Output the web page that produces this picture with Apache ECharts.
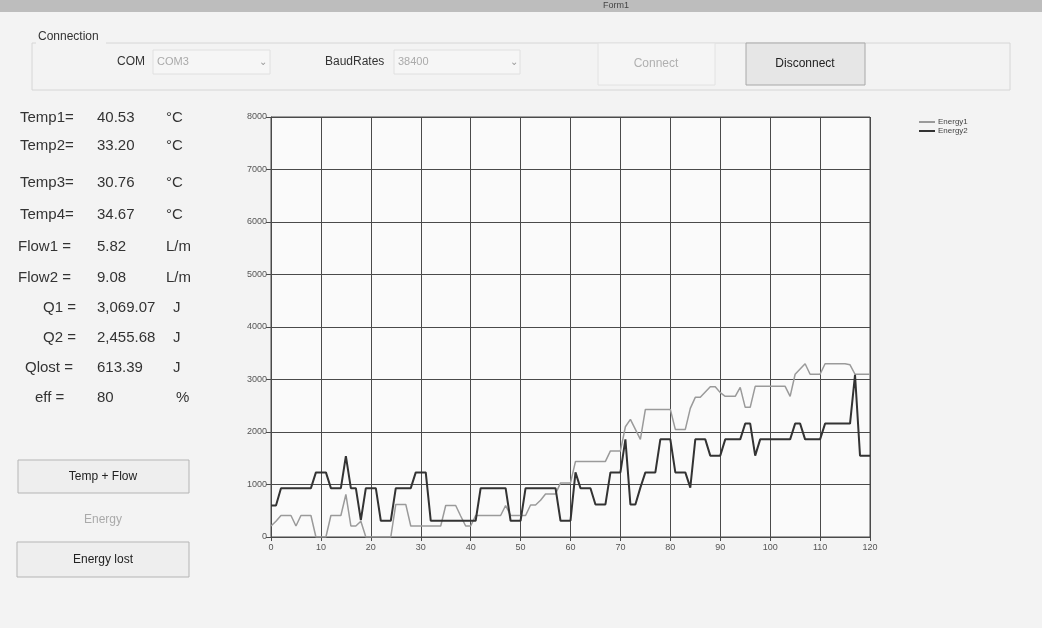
<!DOCTYPE html>
<html>
<head>
<meta charset="utf-8">
<script src="https://cdn.jsdelivr.net/npm/echarts@6/dist/echarts.min.js"></script>
<style>
html,body{margin:0;padding:0;background:#f3f3f3;}
#c{width:1042px;height:628px;}
</style>
</head>
<body>
<div id="c"></div>
<script>
// ---- data ----
var seriesNames = ['Energy1', 'Energy2'];
var xTicks = [0,10,20,30,40,50,60,70,80,90,100,110,120];
var yTicks = [0,1000,2000,3000,4000,5000,6000,7000,8000];
// Energy1 (light gray), one value per sample 0..120
var energy1 = [
 210,300,410,410,410,210,410,410,410,0,
 0,0,410,410,410,810,210,210,300,0,
 0,0,0,0,0,620,620,620,210,210,
 210,210,210,210,210,600,600,600,400,210,
 210,410,410,410,410,410,410,600,410,410,
 410,410,610,610,700,820,820,820,1030,1030,
 1030,1440,1440,1440,1440,1440,1440,1440,1640,1640,
 1640,2100,2240,2050,1860,2430,2430,2430,2430,2430,
 2430,2050,2050,2050,2450,2660,2660,2760,2860,2860,
 2750,2680,2680,2680,2850,2470,2470,2870,2870,2870,
 2870,2870,2870,2870,2680,3100,3200,3300,3100,3100,
 3100,3300,3300,3300,3300,3300,3280,3100,3100,3100,
 3100
];
// Energy2 (dark)
var energy2 = [
 600,600,930,930,930,930,930,930,930,1230,
 1230,1230,930,930,930,1540,930,930,320,930,
 930,930,310,310,310,930,930,930,930,1230,
 1230,1230,310,310,310,310,310,310,310,310,
 310,310,930,930,930,930,930,930,310,310,
 310,930,930,930,930,930,930,930,310,310,
 310,1230,930,930,930,620,620,620,1230,1230,
 1230,1860,620,620,940,1230,1230,1230,1860,1860,
 1860,1230,1230,1230,940,1860,1860,1860,1550,1550,
 1550,1860,1860,1860,1860,2160,2160,1550,1860,1860,
 1860,1860,1860,1860,1860,2160,2160,1860,1860,1860,
 1860,2160,2160,2160,2160,2160,2160,3090,1550,1550,
 1550
];
// side panel readouts
var readLabels = ['Temp1=','Temp2=','Temp3=','Temp4=','Flow1 =','Flow2 =','Q1 =','Q2 =','Qlost =','eff ='];
var readValues = ['40.53','33.20','30.76','34.67','5.82','9.08','3,069.07','2,455.68','613.39','80'];
var readUnits  = ['°C','°C','°C','°C','L/m','L/m','J','J','J','%'];

// ---- layout helpers ----
var FONT = 'Liberation Sans, Arial, sans-serif';
var rowY = [118,146,183,215,247,278,308,338,368,398];
var labelX = [20,20,20,20,18,18,43,43,25,35];
var unitX = [166,166,166,166,166,166,173,173,173,176];

var g = [];
// title bar
g.push({type:'rect', shape:{x:0,y:0,width:1042,height:12}, style:{fill:'#bdbdbd'}});
g.push({type:'text', x:603, y:6, style:{text:'Form1', font:'9px '+FONT, fill:'#444', textVerticalAlign:'middle'}});
// connection group box
g.push({type:'rect', shape:{x:32,y:43,width:978,height:47}, style:{fill:'none', stroke:'#d6d6d6', lineWidth:1}});
g.push({type:'rect', shape:{x:36,y:30,width:70,height:14}, style:{fill:'#f3f3f3'}});
g.push({type:'text', x:38, y:37, style:{text:'Connection', font:'12px '+FONT, fill:'#333', textVerticalAlign:'middle'}});
g.push({type:'text', x:117, y:62, style:{text:'COM', font:'12px '+FONT, fill:'#333', textVerticalAlign:'middle'}});
g.push({type:'rect', shape:{x:153,y:50,width:117,height:24}, style:{fill:'#f6f6f6', stroke:'#e0e0e0'}});
g.push({type:'text', x:157, y:62, style:{text:'COM3', font:'11px '+FONT, fill:'#aaa', textVerticalAlign:'middle'}});
g.push({type:'text', x:259, y:62, style:{text:'⌄', font:'10px '+FONT, fill:'#999', textVerticalAlign:'middle'}});
g.push({type:'text', x:325, y:62, style:{text:'BaudRates', font:'12px '+FONT, fill:'#333', textVerticalAlign:'middle'}});
g.push({type:'rect', shape:{x:394,y:50,width:126,height:24}, style:{fill:'#f6f6f6', stroke:'#e0e0e0'}});
g.push({type:'text', x:398, y:62, style:{text:'38400', font:'11px '+FONT, fill:'#aaa', textVerticalAlign:'middle'}});
g.push({type:'text', x:510, y:62, style:{text:'⌄', font:'10px '+FONT, fill:'#999', textVerticalAlign:'middle'}});
g.push({type:'rect', shape:{x:598,y:43,width:117,height:42}, style:{fill:'#f5f5f5', stroke:'#e2e2e2'}});
g.push({type:'text', x:656, y:64, style:{text:'Connect', font:'12px '+FONT, fill:'#b0b0b0', textAlign:'center', textVerticalAlign:'middle'}});
g.push({type:'rect', shape:{x:746,y:43,width:119,height:42}, style:{fill:'#e6e6e6', stroke:'#a8a8a8'}});
g.push({type:'text', x:805, y:64, style:{text:'Disconnect', font:'12px '+FONT, fill:'#222', textAlign:'center', textVerticalAlign:'middle'}});
// readouts
for (var i = 0; i < readLabels.length; i++) {
  g.push({type:'text', x:labelX[i], y:rowY[i], style:{text:readLabels[i], font:'15px '+FONT, fill:'#333', textVerticalAlign:'middle'}});
  g.push({type:'text', x:97, y:rowY[i], style:{text:readValues[i], font:'15px '+FONT, fill:'#333', textVerticalAlign:'middle'}});
  g.push({type:'text', x:unitX[i], y:rowY[i], style:{text:readUnits[i], font:'15px '+FONT, fill:'#333', textVerticalAlign:'middle'}});
}
// buttons
g.push({type:'rect', shape:{x:18,y:460,width:171,height:33}, style:{fill:'#eeeeee', stroke:'#b5b5b5'}});
g.push({type:'text', x:103, y:477, style:{text:'Temp + Flow', font:'12px '+FONT, fill:'#222', textAlign:'center', textVerticalAlign:'middle'}});
g.push({type:'text', x:103, y:520, style:{text:'Energy', font:'12px '+FONT, fill:'#aaa', textAlign:'center', textVerticalAlign:'middle'}});
g.push({type:'rect', shape:{x:17,y:542,width:172,height:35}, style:{fill:'#eeeeee', stroke:'#b5b5b5'}});
g.push({type:'text', x:103, y:560, style:{text:'Energy lost', font:'12px '+FONT, fill:'#222', textAlign:'center', textVerticalAlign:'middle'}});

var chart = echarts.init(document.getElementById('c'));
chart.setOption({
  backgroundColor: '#f3f3f3',
  animation: false,
  graphic: g,
  legend: {
    data: seriesNames,
    orient: 'vertical',
    left: 914, top: 113,
    itemWidth: 16, itemHeight: 2, itemGap: 1,
    icon: 'rect',
    textStyle: {fontSize: 8, color: '#444', fontFamily: FONT, padding:[0,0,0,-2]}
  },
  grid: {left: 271, right: 172, top: 117, bottom: 91, show: true, backgroundColor: '#fafafa', borderColor: '#4a4a4a', borderWidth: 1},
  xAxis: {
    type: 'value', min: 0, max: 120, interval: 10,
    axisLine: {show: true, lineStyle: {color: '#4a4a4a', width: 1}},
    axisTick: {show: true, length: 4, lineStyle: {color: '#4a4a4a'}},
    axisLabel: {fontSize: 9, color: '#555', fontFamily: FONT, margin: 6,
      formatter: function(v){ return String(v); }},
    splitLine: {show: true, lineStyle: {color: '#4a4a4a', width: 1}}
  },
  yAxis: {
    type: 'value', min: 0, max: 8000, interval: 1000,
    axisLine: {show: true, lineStyle: {color: '#4a4a4a', width: 1}},
    axisTick: {show: true, length: 5, lineStyle: {color: '#4a4a4a'}},
    axisLabel: {fontSize: 9, color: '#555', fontFamily: FONT, margin: 4,
      formatter: function(v){ return String(v); }},
    splitLine: {show: true, lineStyle: {color: '#4a4a4a', width: 1}}
  },
  series: [
    {name: 'Energy1', type: 'line', showSymbol: false, symbol: 'none',
     data: energy1.map(function(v, i){ return [i, v]; }),
     lineStyle: {color: '#9a9a9a', width: 1.5}, itemStyle: {color: '#9a9a9a'}},
    {name: 'Energy2', type: 'line', showSymbol: false, symbol: 'none',
     data: energy2.map(function(v, i){ return [i, v]; }),
     lineStyle: {color: '#333', width: 2}, itemStyle: {color: '#333'}}
  ]
});
</script>
</body>
</html>
